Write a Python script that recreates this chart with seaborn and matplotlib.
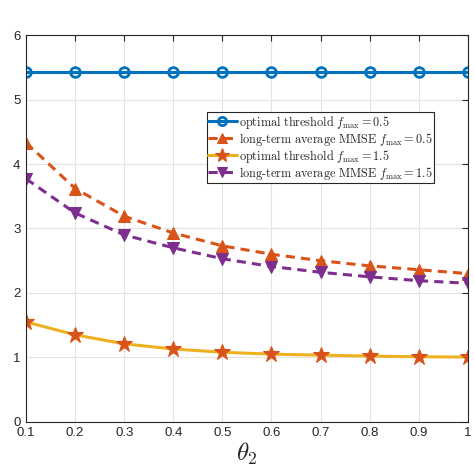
import matplotlib
matplotlib.use("Agg")
import matplotlib.pyplot as plt
import seaborn as sns
import numpy as np
import pandas as pd

# theta_2 values on the x axis
theta2 = [0.1, 0.2, 0.3, 0.4, 0.5, 0.6, 0.7, 0.8, 0.9, 1.0]

opt_05 = [5.43, 5.43, 5.43, 5.43, 5.43, 5.43, 5.43, 5.43, 5.43, 5.43]
mmse_05 = [4.33, 3.62, 3.19, 2.93, 2.73, 2.60, 2.50, 2.42, 2.36, 2.30]
opt_15 = [1.55, 1.35, 1.21, 1.13, 1.08, 1.05, 1.035, 1.02, 1.01, 1.005]
mmse_15 = [3.77, 3.24, 2.90, 2.70, 2.53, 2.41, 2.32, 2.25, 2.19, 2.15]

labels = [r'$\mathrm{optimal\ threshold}\ f_{\mathrm{max}} = 0.5$',
          r'$\mathrm{long\text{-}term\ average\ MMSE}\ f_{\mathrm{max}} = 0.5$',
          r'$\mathrm{optimal\ threshold}\ f_{\mathrm{max}} = 1.5$',
          r'$\mathrm{long\text{-}term\ average\ MMSE}\ f_{\mathrm{max}} = 1.5$']

sns.set_style("white")
plt.rcParams['font.family'] = ['Liberation Sans', 'DejaVu Sans']
plt.rcParams['mathtext.fontset'] = 'cm'

fig = plt.figure(figsize=(4.74, 4.74), dpi=100)
ax = fig.add_axes([0.055, 0.110, 0.932, 0.816])

blue = '#0072BD'
orange = '#D95319'
yellow = '#EDB120'
purple = '#7E2F8E'

df = pd.DataFrame({'theta2': theta2, 'opt05': opt_05, 'mmse05': mmse_05,
                   'opt15': opt_15, 'mmse15': mmse_15})

sns.lineplot(data=df, x='theta2', y='opt05', ax=ax, color=blue, lw=2.2,
             marker='o', ms=7, mfc='none', mec=blue, mew=2, label=labels[0])
sns.lineplot(data=df, x='theta2', y='mmse05', ax=ax, color=orange, lw=2.2,
             linestyle=(0, (3, 2)), marker='^', ms=9, mfc=orange, mec=orange,
             label=labels[1])
sns.lineplot(data=df, x='theta2', y='opt15', ax=ax, color=yellow, lw=2.2,
             marker='*', ms=12, mfc=orange, mec=orange, label=labels[2])
sns.lineplot(data=df, x='theta2', y='mmse15', ax=ax, color=purple, lw=2.2,
             linestyle=(0, (3, 2)), marker='v', ms=9, mfc=purple, mec=purple,
             label=labels[3])

ax.set_xlim(0.1, 1.0)
ax.set_ylim(0, 6)
ax.set_xticks(theta2)
ax.set_xticklabels(['0.1', '0.2', '0.3', '0.4', '0.5', '0.6', '0.7', '0.8', '0.9', '1'])
ax.set_yticks(range(0, 7))
ax.grid(True, color='#e3e3e3', lw=0.8)
ax.set_axisbelow(True)
ax.tick_params(direction='in', length=4, width=0.8, top=True, right=True,
               labelsize=9.5, colors='#262626')
ax.tick_params(axis='x', pad=4)
ax.tick_params(axis='y', pad=4)
for s in ax.spines.values():
    s.set_color('#262626')
    s.set_linewidth(0.8)

ax.set_xlabel(r'$\theta_2$', fontsize=18, labelpad=1)
ax.set_ylabel('')

leg = ax.legend(loc='upper left', bbox_to_anchor=(0.41, 0.80), fontsize=8.8,
                frameon=True, fancybox=False, edgecolor='#262626',
                borderpad=0.1, labelspacing=0.0, handlelength=2.3,
                handletextpad=0.2, borderaxespad=0, framealpha=1,
                markerscale=0.85)
leg.get_frame().set_linewidth(0.8)

fig.savefig('out.png', dpi=100)
